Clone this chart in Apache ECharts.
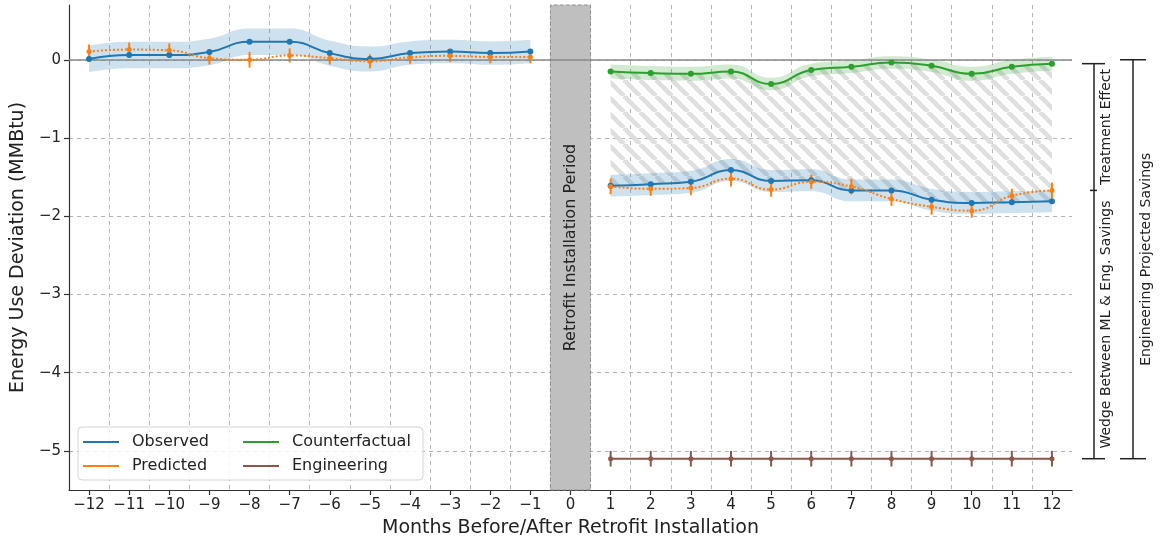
<!DOCTYPE html>
<html>
<head>
<meta charset="utf-8">
<script src="https://cdn.jsdelivr.net/npm/echarts@6/dist/echarts.min.js"></script>
<style>
  html, body { margin: 0; padding: 0; background: #fff; }
  #main { width: 1161px; height: 548px; }
</style>
</head>
<body>
<div id="main"></div>
<script>
// months
var xLeft = [-12, -11, -10, -9, -8, -7, -6, -5, -4, -3, -2, -1]
var xRight = [1, 2, 3, 4, 5, 6, 7, 8, 9, 10, 11, 12]
var xTicks = [-12, -11, -10, -9, -8, -7, -6, -5, -4, -3, -2, -1, 0, 1, 2, 3, 4, 5, 6, 7, 8, 9, 10, 11, 12]
var xGrid = [-11.5, -10.5, -9.5, -8.5, -7.5, -6.5, -5.5, -4.5, -3.5, -2.5, -1.5, -0.5, 0.5, 1.5, 2.5, 3.5, 4.5, 5.5, 6.5, 7.5, 8.5, 9.5, 10.5, 11.5]
var yTicks = [-5, -4, -3, -2, -1, 0]

// before retrofit
var obsLeft = [0.01, 0.06, 0.06, 0.10, 0.23, 0.23, 0.085, 0.01, 0.085, 0.105, 0.085, 0.105]
var obsBandLeft = [0.17, 0.17, 0.17, 0.17, 0.17, 0.17, 0.16, 0.16, 0.15, 0.15, 0.15, 0.15]
var predLeft = [0.105, 0.13, 0.12, 0.02, 0.0, 0.055, 0.02, -0.02, 0.03, 0.05, 0.035, 0.035]
var predErrLeft = [0.09, 0.09, 0.09, 0.08, 0.1, 0.09, 0.08, 0.09, 0.08, 0.08, 0.08, 0.08]

// after retrofit
var obsRight = [-1.61, -1.59, -1.56, -1.41, -1.55, -1.54, -1.67, -1.67, -1.79, -1.83, -1.82, -1.81]
var obsBandRight = [0.14, 0.14, 0.14, 0.14, 0.14, 0.14, 0.14, 0.14, 0.14, 0.14, 0.14, 0.14]
var predRight = [-1.62, -1.65, -1.64, -1.52, -1.66, -1.56, -1.62, -1.78, -1.88, -1.93, -1.74, -1.67]
var predErrRight = [0.1, 0.09, 0.09, 0.1, 0.09, 0.09, 0.1, 0.09, 0.1, 0.09, 0.09, 0.1]
var cfRight = [-0.15, -0.17, -0.18, -0.15, -0.31, -0.13, -0.09, -0.035, -0.077, -0.18, -0.09, -0.05]
var cfBand = [0.09, 0.09, 0.09, 0.09, 0.08, 0.08, 0.08, 0.08, 0.08, 0.09, 0.09, 0.09]
var engRight = [-5.1, -5.1, -5.1, -5.1, -5.1, -5.1, -5.1, -5.1, -5.1, -5.1, -5.1, -5.1]
var engErr = [0.1, 0.1, 0.1, 0.1, 0.1, 0.1, 0.1, 0.1, 0.1, 0.1, 0.1, 0.1]

var font = 'DejaVu Sans'
var BLUE = '#1f77b4', ORANGE = '#ff7f0e', GREEN = '#2ca02c', BROWN = '#8c564b'

function pts(xs, ys) {
  return xs.map(function (x, i) { return [x, ys[i]] })
}
// y first so that ECharts stacks on the y dimension (x is a value axis too)
function ptsYX(xs, ys) {
  return xs.map(function (x, i) { return [ys[i], x] })
}
function minus(v) {
  return String(v).replace('-', '\u2212')
}

// hatch pattern for the treatment effect area
var hatch = document.createElement('canvas')
hatch.width = 16
hatch.height = 16
var hc = hatch.getContext('2d')
hc.strokeStyle = '#dedede'
hc.lineWidth = 4.5
for (var k = -1; k <= 1; k++) {
  hc.beginPath()
  hc.moveTo(k * 16, 0)
  hc.lineTo(k * 16 + 16, 16)
  hc.stroke()
}

function stackPart(name, stack, data, extra) {
  var s = {
    name: name, type: 'line', stack: stack, stackStrategy: 'all', smooth: 0.5,
    encode: { x: 1, y: 0 },
    symbol: 'none', silent: true, lineStyle: { opacity: 0 }, z: 1,
    data: data
  }
  for (var key in extra) s[key] = extra[key]
  return s
}

function bandSeries(id, xs, mid, half, color) {
  return [
    stackPart(id + 'Low', id, ptsYX(xs, mid.map(function (v, i) { return v - half[i] }))),
    stackPart(id + 'Width', id, ptsYX(xs, half.map(function (v) { return 2 * v })), {
      areaStyle: { color: color, opacity: 1 }
    })
  ]
}

function errBars(name, xs, ys, errs, color) {
  return {
    name: name, type: 'custom', silent: true, z: 4,
    encode: { x: 0, y: [1, 2] },
    data: xs.map(function (x, i) { return [x, ys[i] - errs[i], ys[i] + errs[i]] }),
    renderItem: function (params, api) {
      var a = api.coord([api.value(0), api.value(1)])
      var b = api.coord([api.value(0), api.value(2)])
      return {
        type: 'line',
        shape: { x1: a[0], y1: a[1], x2: b[0], y2: b[1] },
        style: { stroke: color, lineWidth: 2 }
      }
    }
  }
}

function lineSeries(name, xs, ys, color, opts) {
  var s = {
    name: name, type: 'line', smooth: 0.5, data: pts(xs, ys),
    symbol: 'circle', symbolSize: 6, z: 5,
    itemStyle: { color: color },
    lineStyle: { color: color, width: 2 }
  }
  for (var key in opts) s[key] = opts[key]
  return s
}

var myChart = echarts.init(document.getElementById('main'))

var series = []
  .concat(bandSeries('obsBandL', xLeft, obsLeft, obsBandLeft, 'rgba(31,119,180,0.22)'))
  .concat(bandSeries('obsBandR', xRight, obsRight, obsBandRight, 'rgba(31,119,180,0.22)'))
  .concat(bandSeries('cfBand', xRight, cfRight, cfBand, 'rgba(44,160,44,0.22)'))
  .concat([
    stackPart('hatchBase', 'hatch', ptsYX(xRight, obsRight), {
      z: 0,
      markArea: {
        silent: true,
        itemStyle: { color: '#bfbfbf', borderColor: '#8f8f8f', borderWidth: 1, borderType: 'dashed' },
        data: [[{ xAxis: -0.5 }, { xAxis: 0.5 }]]
      }
    }),
    stackPart('hatchFill', 'hatch', ptsYX(xRight, cfRight.map(function (v, i) { return v - obsRight[i] })), {
      z: 0,
      areaStyle: { color: { image: hatch, repeat: 'repeat' }, opacity: 1 },
      markLine: {
        silent: true, symbol: 'none', label: { show: false },
        lineStyle: { color: '#8a8a8a', type: 'solid', width: 1.5 },
        data: [{ yAxis: 0 }]
      }
    }),
    lineSeries('Observed', xLeft, obsLeft, BLUE),
    lineSeries('Observed', xRight, obsRight, BLUE),
    lineSeries('Predicted', xLeft, predLeft, ORANGE, { symbolSize: 5, lineStyle: { color: ORANGE, width: 2, type: 'dotted' } }),
    lineSeries('Predicted', xRight, predRight, ORANGE, { symbolSize: 5, lineStyle: { color: ORANGE, width: 2, type: 'dotted' } }),
    errBars('predErrL', xLeft, predLeft, predErrLeft, ORANGE),
    errBars('predErrR', xRight, predRight, predErrRight, ORANGE),
    lineSeries('Counterfactual', xRight, cfRight, GREEN),
    lineSeries('Engineering', xRight, engRight, BROWN, { smooth: false, symbolSize: 5 }),
    errBars('engErr', xRight, engRight, engErr, BROWN)
  ])

var legendBase = {
  orient: 'vertical', top: 432, padding: 0, itemGap: 4,
  icon: 'rect', itemWidth: 36, itemHeight: 2,
  textStyle: { fontFamily: font, fontSize: 16, color: '#222', lineHeight: 20, padding: [0, 0, 0, 8] },
  selectedMode: false, z: 6
}

var option = {
  backgroundColor: '#fff',
  animation: false,
  textStyle: { fontFamily: font },
  grid: { left: 69, right: 89, top: 5, bottom: 58 },
  legend: [
    Object.assign({}, legendBase, { left: 83, data: ['Observed', 'Predicted'] }),
    Object.assign({}, legendBase, { left: 243, data: ['Counterfactual', 'Engineering'] })
  ],
  xAxis: [
    {
      type: 'value', min: -12.5, max: 12.5,
      name: 'Months Before/After Retrofit Installation',
      nameLocation: 'middle', nameGap: 29,
      nameTextStyle: { fontFamily: font, fontSize: 19, color: '#222' },
      axisLine: { onZero: false, lineStyle: { color: '#333', width: 1.2 } },
      axisTick: { customValues: xTicks, length: 5, lineStyle: { color: '#333', width: 1.2 } },
      axisLabel: { customValues: xTicks, formatter: minus, fontFamily: font, fontSize: 15, color: '#222', margin: 8 },
      splitLine: { show: false }
    },
    {
      type: 'value', min: -12.5, max: 12.5, position: 'bottom',
      axisLine: { show: false },
      axisTick: { show: false, customValues: xGrid },
      axisLabel: { show: false, customValues: xGrid },
      splitLine: { show: true, lineStyle: { color: '#b5b5b5', type: [4, 4], width: 1 } }
    }
  ],
  yAxis: {
    type: 'value', min: -5.5, max: 0.7,
    name: 'Energy Use Deviation (MMBtu)',
    nameLocation: 'middle', nameGap: 40,
    nameTextStyle: { fontFamily: font, fontSize: 19, color: '#222' },
    axisLine: { show: true, onZero: false, lineStyle: { color: '#333', width: 1.2 } },
    axisTick: { show: true, customValues: yTicks, length: 5, lineStyle: { color: '#333', width: 1.2 } },
    axisLabel: { customValues: yTicks, formatter: minus, fontFamily: font, fontSize: 15, color: '#222', margin: 8 },
    splitLine: { show: true, lineStyle: { color: '#b5b5b5', type: [4, 4], width: 1 } }
  },
  series: series
}

myChart.setOption(option)

// annotations placed from the data values
function px(x, y) {
  return myChart.convertToPixel({ xAxisIndex: 0, yAxisIndex: 0 }, [x, y])
}
var last = xRight.length - 1
var right = px(12.5, 0)[0]
var yZero = px(0, 0)[1]
var yCf = px(12, cfRight[last])[1]
var yPred = px(12, predRight[last])[1]
var yEng = px(12, engRight[last])[1]
var band = px(0, 0)[0]
var midY = (px(0, 0.7)[1] + px(0, -5.5)[1]) / 2
var xIn = right + 22
var xOut = right + 61

function seg(x1, y1, x2, y2) {
  return { type: 'line', shape: { x1: x1, y1: y1, x2: x2, y2: y2 }, style: { stroke: '#222', lineWidth: 1.5 }, z: 10 }
}
function vText(x, y, text, size) {
  return {
    type: 'text', x: x, y: y, rotation: Math.PI / 2, z: 10,
    style: { text: text, fontFamily: font, fontSize: size, fill: '#222', align: 'center', verticalAlign: 'middle' }
  }
}

myChart.setOption({
  graphic: [
    {
      type: 'rect', z: 5, silent: true,
      shape: { x: 78, y: 427, width: 345, height: 53, r: 4 },
      style: { fill: 'rgba(255,255,255,0.85)', stroke: '#d4d4d4', lineWidth: 1 }
    },
    vText(band, midY, 'Retrofit Installation Period', 16),
    seg(xIn, yCf, xIn, yEng),
    seg(xIn - 12, yCf, xIn + 11, yCf),
    seg(xIn - 4, yPred, xIn + 3, yPred),
    seg(xIn - 12, yEng, xIn + 11, yEng),
    vText(xIn + 12, (yCf + yPred) / 2, 'Treatment Effect', 14),
    vText(xIn + 12, (yPred + yEng) / 2, 'Wedge Between ML & Eng. Savings', 14),
    seg(xOut, yZero, xOut, yEng),
    seg(xOut - 13, yZero, xOut + 13, yZero),
    seg(xOut - 13, yEng, xOut + 13, yEng),
    vText(xOut + 13, (yZero + yEng) / 2, 'Engineering Projected Savings', 14)
  ]
})
</script>
</body>
</html>
